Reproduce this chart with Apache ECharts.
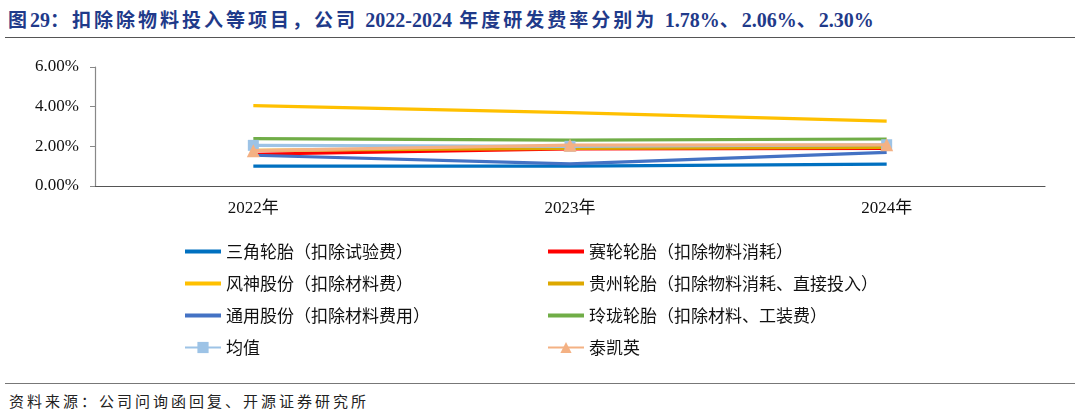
<!DOCTYPE html>
<html><head><meta charset="utf-8">
<script src="https://cdn.jsdelivr.net/npm/echarts@6/dist/echarts.min.js"></script>
<style>
html,body{margin:0;padding:0;background:#fff;}
#wrap{position:relative;width:1080px;height:415px;}
#title{position:absolute;left:8px;top:5px;font-family:"Liberation Serif","Noto Sans CJK SC",serif;font-weight:bold;font-size:20px;color:#1f3a8a;white-space:nowrap;}
#title .cn{font-family:"Noto Sans CJK SC",sans-serif;font-size:19px;letter-spacing:3px;}
#line1{position:absolute;left:5px;right:5px;top:37px;border-top:1.5px solid #555;}
#line2{position:absolute;left:5px;right:5px;top:383px;border-top:1px solid #777;}
#src{position:absolute;left:9px;top:390px;font-family:"Noto Sans CJK SC",sans-serif;font-size:15px;letter-spacing:3px;color:#222;}
#chart{position:absolute;left:0;top:40px;width:1080px;height:340px;}
</style></head>
<body>
<div id="wrap">
<div id="title"><span class="cn">图</span>29<span class="cn">：扣除除物料投入等项目，公司 </span>2022-2024<span class="cn"> 年度研发费率分别为 </span>1.78%<span class="cn">、</span>2.06%<span class="cn">、</span>2.30%</div>
<div id="line1"></div>
<div id="chart"></div>
<div id="line2"></div>
<div id="src">资料来源：公司问询函回复、开源证券研究所</div>
</div>
<script>
var categories = ['2022年', '2023年', '2024年'];
var yTicks = [0, 2, 4, 6];
var sanjiao = [1.00, 1.00, 1.10];
var sailun = [1.60, 1.87, 1.90];
var fengshen = [4.05, 3.70, 3.27];
var guizhou = [1.80, 1.90, 1.95];
var tongyong = [1.55, 1.12, 1.70];
var linglong = [2.39, 2.31, 2.37];
var junzhi = [2.05, 2.00, 2.08];
var taikaiying = [1.78, 2.06, 2.08];

var names = ['三角轮胎（扣除试验费）','赛轮轮胎（扣除物料消耗）','风神股份（扣除材料费）','贵州轮胎（扣除物料消耗、直接投入）','通用股份（扣除材料费用）','玲珑轮胎（扣除材料、工装费）','均值','泰凯英'];
var datas = [sanjiao, sailun, fengshen, guizhou, tongyong, linglong, junzhi, taikaiying];
var colors = ['#0070C0','#FF0000','#FFC000','#DDA800','#4472C4','#70AD47','#9DC3E6','#F4B183'];
var symbols = ['none','none','none','none','none','none','rect','triangle'];
var symSizes = [0,0,0,0,0,0,11,13];

var series = names.map(function(n, i){
  return {
    name: n, type: 'line', data: datas[i],
    symbol: symbols[i], symbolSize: symSizes[i], showSymbol: symbols[i] !== 'none',
    lineStyle: {width: 3.2, color: colors[i]},
    itemStyle: {color: colors[i]},
    z: 2 + i
  };
});

function legendItem(i){
  if (symbols[i] === 'none') return {name: names[i], icon: 'path://M0 0H40V4.5H0Z'};
  return {name: names[i]};
}

var legendText = {fontFamily: '"Noto Sans CJK SC", sans-serif', fontSize: 17, color: '#111'};
var chart = echarts.init(document.getElementById('chart'));
chart.setOption({
  animation: false,
  grid: {left: 95, right: 35, top: 27, bottom: 194},
  xAxis: {
    type: 'category', data: categories, boundaryGap: true,
    axisLine: {lineStyle: {color: '#555', width: 1.2}},
    axisTick: {inside: true, length: 6, lineStyle: {color: '#555'}},
    axisLabel: {margin: 14, fontFamily: '"Liberation Serif","Noto Sans CJK SC",serif', fontSize: 17, color: '#111'}
  },
  yAxis: {
    type: 'value', min: yTicks[0], max: yTicks[yTicks.length-1], interval: 2,
    splitLine: {show: false},
    axisLine: {show: true, lineStyle: {color: '#888', width: 1.2}},
    axisTick: {show: true, length: 5, lineStyle: {color: '#888'}},
    axisLabel: {margin: 16, fontFamily: '"Liberation Serif",serif', fontSize: 17, color: '#111',
      formatter: function(v){ return v.toFixed(2) + '%'; }}
  },
  legend: [
    {data: [0,2,4,6].map(legendItem), orient: 'vertical', left: 179, top: 198,
     itemWidth: 36, itemHeight: 14, itemGap: 15, textStyle: legendText},
    {data: [1,3,5,7].map(legendItem), orient: 'vertical', left: 542, top: 198,
     itemWidth: 36, itemHeight: 14, itemGap: 15, textStyle: legendText}
  ],
  series: series
});
</script>
</body></html>
